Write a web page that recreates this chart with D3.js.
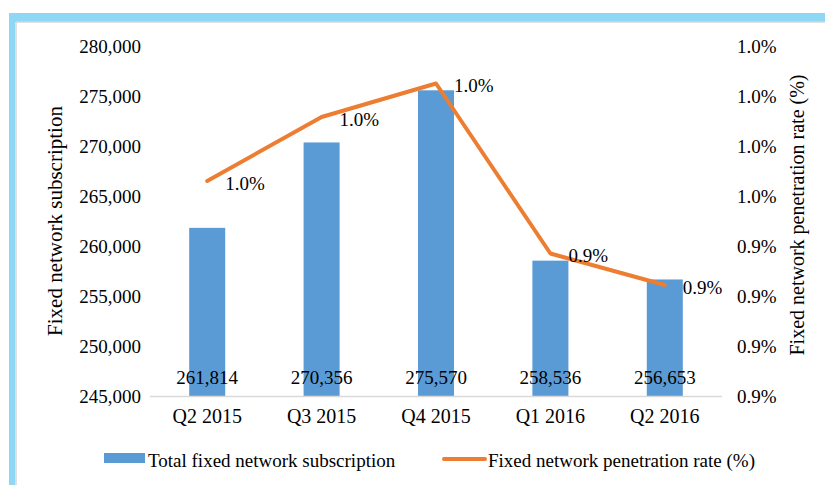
<!DOCTYPE html>
<html><head><meta charset="utf-8">
<script src="https://cdn.jsdelivr.net/npm/d3@7"></script>
<style>
html,body{margin:0;padding:0;background:#fff;}
text{font-family:"Liberation Serif","Times New Roman",serif;fill:#000;}
</style></head>
<body>
<svg id="chart" width="825" height="485"></svg>
<script>
const categories = ["Q2 2015","Q3 2015","Q4 2015","Q1 2016","Q2 2016"];
const subscriptions = [261814, 270356, 275570, 258536, 256653];
const penetration = [0.966, 0.9916, 1.005, 0.937, 0.9244];
const leftTicks = [245000,250000,255000,260000,265000,270000,275000,280000];
const rightTicks = [0.88,0.90,0.92,0.94,0.96,0.98,1.00,1.02];
const barName = "Total fixed network subscription";
const lineName = "Fixed network penetration rate (%)";

const svg = d3.select("#chart");
const W = 825, H = 485;
const m = {left:150, right:722, top:46, bottom:396};

// frame border
svg.append("rect").attr("x",9).attr("y",13).attr("width",W-9).attr("height",9).attr("fill","#8ED8F5");
svg.append("rect").attr("x",9).attr("y",13).attr("width",6).attr("height",H-13).attr("fill","#8ED8F5");
svg.append("line").attr("x1",16).attr("x2",W).attr("y1",22).attr("y2",22).attr("stroke","#D6D6D6").attr("stroke-width",1.5);
svg.append("line").attr("x1",16).attr("x2",16).attr("y1",22).attr("y2",H).attr("stroke","#D6D6D6").attr("stroke-width",1.5);

const x = d3.scaleBand().domain(categories).range([m.left,m.right]).paddingInner(0.685).paddingOuter(0.3425);
const yL = d3.scaleLinear().domain([245000,280000]).range([m.bottom,m.top]);
const yR = d3.scaleLinear().domain([0.88,1.02]).range([m.bottom,m.top]);
const fs = 19;

// left axis
const la = svg.append("g").attr("transform",`translate(${m.left-9},0)`)
  .call(d3.axisLeft(yL).tickValues(leftTicks).tickSize(0).tickPadding(0).tickFormat(d3.format(",")));
la.select(".domain").remove();
la.selectAll("text").attr("font-size",fs).attr("font-family","Liberation Serif").attr("fill","#000").attr("dy","0.35em");

// right axis
const ra = svg.append("g").attr("transform",`translate(${m.right+15},0)`)
  .call(d3.axisRight(yR).tickValues(rightTicks).tickSize(0).tickPadding(0).tickFormat(d=>d.toFixed(1)+"%"));
ra.select(".domain").remove();
ra.selectAll("text").attr("font-size",fs).attr("font-family","Liberation Serif").attr("fill","#000").attr("dy","0.35em");

// bars
svg.append("g").selectAll("rect").data(subscriptions).join("rect")
  .attr("x",(d,i)=>x(categories[i])).attr("width",x.bandwidth())
  .attr("y",d=>yL(d)).attr("height",d=>yL(245000)-yL(d)).attr("fill","#5B9BD5");

// baseline
svg.append("line").attr("x1",m.left).attr("x2",m.right).attr("y1",m.bottom+0.5).attr("y2",m.bottom+0.5)
  .attr("stroke","#D9D9D9").attr("stroke-width",1.5);

// category axis
const xa = svg.append("g").attr("transform",`translate(0,${m.bottom})`)
  .call(d3.axisBottom(x).tickSize(0).tickPadding(13));
xa.select(".domain").remove();
xa.selectAll("text").attr("font-size",20).attr("font-family","Liberation Serif").attr("fill","#000");

// bar labels
svg.append("g").selectAll("text").data(subscriptions).join("text")
  .attr("x",(d,i)=>x(categories[i])+x.bandwidth()/2).attr("y",384)
  .attr("text-anchor","middle").attr("font-size",fs).text(d=>d3.format(",")(d));

// line
const cx = i => x(categories[i])+x.bandwidth()/2;
const line = d3.line().x((d,i)=>cx(i)).y(d=>yR(d));
svg.append("path").datum(penetration).attr("d",line).attr("fill","none")
  .attr("stroke","#ED7D31").attr("stroke-width",4).attr("stroke-linejoin","round").attr("stroke-linecap","round");

// line labels
svg.append("g").selectAll("text").data(penetration).join("text")
  .attr("x",(d,i)=>cx(i)+18).attr("y",d=>yR(d)+2).attr("dy","0.35em")
  .attr("font-size",fs).text(d=>d.toFixed(1)+"%");

// axis titles
svg.append("text").attr("transform","translate(62,221) rotate(-90)").attr("text-anchor","middle")
  .attr("font-size",21).text("Fixed network subscription");
svg.append("text").attr("transform","translate(804,215) rotate(-90)").attr("text-anchor","middle")
  .attr("font-size",20).text(lineName);

// legend
svg.append("rect").attr("x",104).attr("y",453).attr("width",41).attr("height",10).attr("fill","#5B9BD5");
svg.append("text").attr("x",148).attr("y",467).attr("font-size",fs).text(barName);
svg.append("line").attr("x1",444).attr("x2",485).attr("y1",459).attr("y2",459).attr("stroke","#ED7D31").attr("stroke-width",4).attr("stroke-linecap","round");
svg.append("text").attr("x",488).attr("y",467).attr("font-size",fs).text(lineName);
</script>
</body></html>
